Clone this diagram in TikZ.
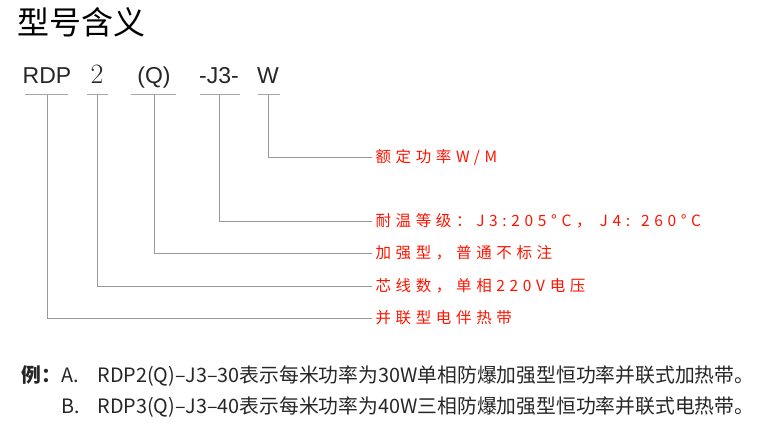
\documentclass[tikz,border=0pt]{standalone}
\usepackage{fontspec}
\setmainfont{Liberation Sans}
\newfontfamily\cjk{Noto Sans CJK SC}
\newfontfamily\cjkw{Noto Sans CJK SC}[LetterSpace=30]
\newfontfamily\lmr{Latin Modern Roman}
\begin{document}
\begin{tikzpicture}[x=1pt,y=-1pt,
  code/.style={anchor=base,font=\fontsize{23}{23}\selectfont,text=black!85},
  uline/.style={draw=black!35,line width=1pt},
  lead/.style={draw=black!40,line width=0.8pt},
  lab/.style={anchor=west,text=red!85!orange,font=\cjkw\fontsize{15.5}{15.5}\selectfont},
  ex/.style={anchor=base west,font=\cjk\fontsize{19.8}{20}\selectfont,text=black!85}]
\useasboundingbox (0,0) rectangle (772,441);
\node[anchor=west,font=\cjk\fontsize{32}{32}\selectfont,inner sep=0pt] (t) at (17,22) {型号含义};
\node[code] (c1) at (47,84) {RDP};
\node[code,font=\lmr\fontsize{28}{28}\selectfont] (c2) at (97,84) {2};
\node[code] (c3) at (154,84) {(Q)};
\node[code] (c4) at (219,84) {-J3-};
\node[code] (c5) at (268,84) {W};
\draw[uline] (25,95)--(68,95) (87,95)--(108,95) (131,95)--(176,95) (200,95)--(240,95) (258,95)--(280,95);
\node[lab] (l5) at (372,157) {额定功率W/M};
\node[lab] (l4) at (372,221) {耐温等级：J3:205°C， J4: 260°C};
\node[lab] (l3) at (372,253) {加强型，普通不标注};
\node[lab] (l2) at (372,286) {芯线数，单相220V电压};
\node[lab] (l1) at (372,318) {并联型电伴热带};
\draw[lead] (268,95)|-(l5.west);
\draw[lead] (219,95)|-(l4.west);
\draw[lead] (154,95)|-(l3.west);
\draw[lead] (97,95)|-(l2.west);
\draw[lead] (47,95)|-(l1.west);
\node[ex] (e0) at (18,382) {\bfseries 例：};
\node[ex] (ea) at (58,382) {A.};
\node[ex] (eat) at (94,382) {RDP2(Q)–J3–30表示每米功率为30W单相防爆加强型恒功率并联式加热带。};
\node[ex] (eb) at (58,413) {B.};
\node[ex] (ebt) at (94,413) {RDP3(Q)–J3–40表示每米功率为40W三相防爆加强型恒功率并联式电热带。};
\end{tikzpicture}
\end{document}
